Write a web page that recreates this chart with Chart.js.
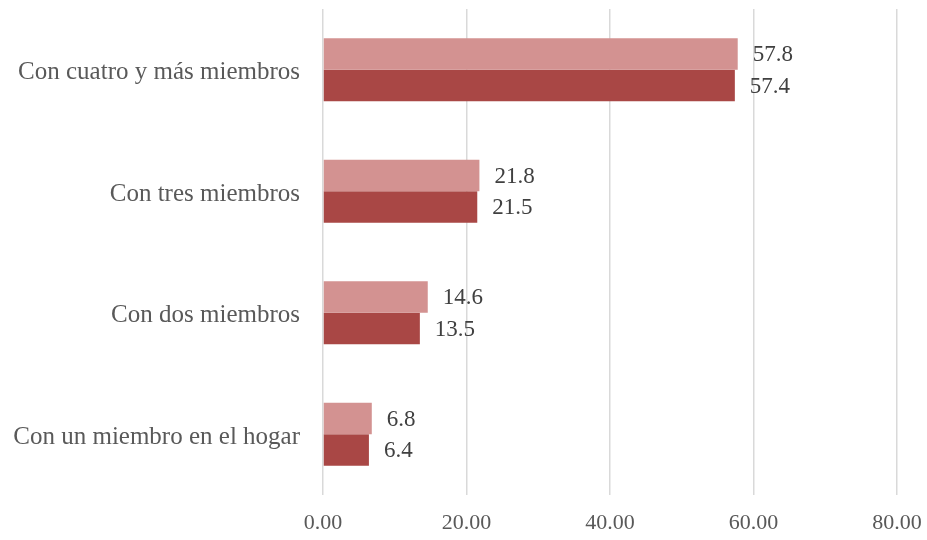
<!DOCTYPE html>
<html><head><meta charset="utf-8">
<script src="https://cdn.jsdelivr.net/npm/chart.js@4/dist/chart.umd.min.js"></script>
<style>html,body{margin:0;padding:0;background:#fff}#wrap{width:927px;height:540px}</style>
</head><body><div id="wrap"><canvas id="c" width="927" height="540"></canvas></div>
<script>
const categories = ["Con cuatro y más miembros","Con tres miembros","Con dos miembros","Con un miembro en el hogar"];
const seriesA = [57.8, 21.8, 14.6, 6.8];
const seriesB = [57.4, 21.5, 13.5, 6.4];
const xTicks = [0, 20, 40, 60, 80];
const FONT = "'Liberation Serif', 'DejaVu Serif', serif";

const labelPlugin = {
  id: 'vals',
  afterDatasetsDraw(chart) {
    const ctx = chart.ctx;
    ctx.save();
    ctx.font = "23px " + FONT;
    ctx.fillStyle = "#404040";
    ctx.textBaseline = "middle";
    ctx.textAlign = "left";
    chart.data.datasets.forEach((ds, i) => {
      chart.getDatasetMeta(i).data.forEach((bar, j) => {
        ctx.fillText(ds.data[j].toFixed(1), bar.x + 15, bar.y + 1);
      });
    });
    ctx.restore();
  }
};

new Chart(document.getElementById('c'), {
  type: 'bar',
  data: {
    labels: categories,
    datasets: [
      {data: seriesA, backgroundColor: '#D39291', barPercentage: 1, categoryPercentage: 0.52},
      {data: seriesB, backgroundColor: '#A94745', barPercentage: 1, categoryPercentage: 0.52}
    ]
  },
  options: {
    indexAxis: 'y',
    responsive: false,
    animation: false,
    layout: {padding: {top: 9, right: 30, bottom: 0, left: 0}},
    plugins: {legend: {display: false}, tooltip: {enabled: false}},
    scales: {
      x: {
        min: 0, max: 80,
        afterBuildTicks(axis) { axis.ticks = xTicks.map(v => ({value: v})); },
        afterFit(axis) { axis.height = 45; axis.paddingLeft = 0; axis.paddingRight = 0; },
        grid: {color: '#D9D9D9', lineWidth: 1.5, drawTicks: true, tickLength: 0},
        border: {display: false},
        ticks: {font: {family: FONT, size: 22}, color: '#595959', padding: 15,
                callback: v => Number(v).toFixed(2)}
      },
      y: {
        afterFit(axis) { axis.width = 323; axis.paddingTop = 0; axis.paddingBottom = 0; },
        grid: {display: false},
        border: {display: false},
        ticks: {font: {family: FONT, size: 25}, color: '#595959', padding: 15, labelOffset: 3}
      }
    }
  },
  plugins: [labelPlugin]
});
</script></body></html>
